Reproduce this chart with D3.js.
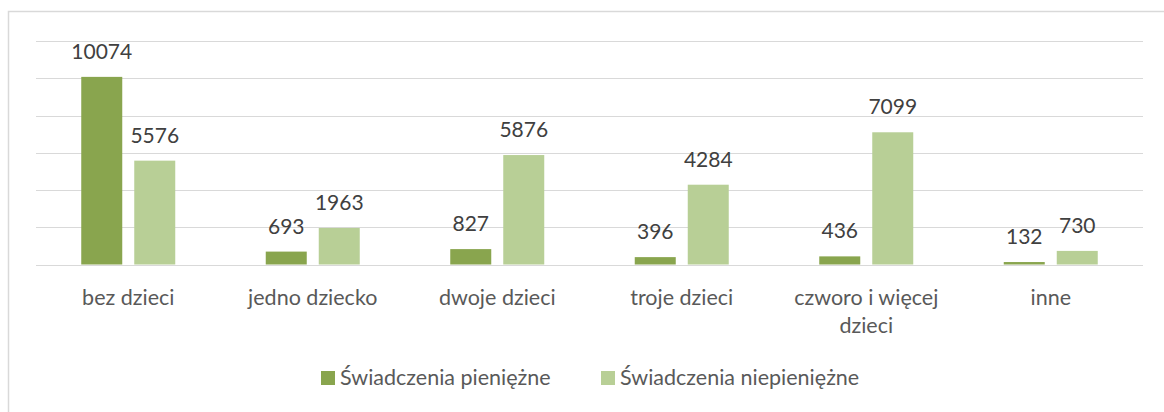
<!DOCTYPE html>
<html>
<head>
<meta charset="utf-8">
<script src="https://cdn.jsdelivr.net/npm/d3@7"></script>
<style>
    body { margin: 0; background: #fff; }
    text { font-family: Lato, "Open Sans", sans-serif; }
</style>
</head>
<body>
<div id="chart"></div>
<script>
// data
const categories = ["bez dzieci", "jedno dziecko", "dwoje dzieci", "troje dzieci", "czworo i więcej dzieci", "inne"]
const seriesNames = ["Świadczenia pieniężne", "Świadczenia niepieniężne"]
const cashValues = [10074, 693, 827, 396, 436, 132]
const nonCashValues = [5576, 1963, 5876, 4284, 7099, 730]
const yTicks = [0, 2000, 4000, 6000, 8000, 10000, 12000]
const colors = ["#89a54e", "#b8cf96"]

const drawBarChart = () => {
    const width = 1164,
        height = 412
    const margin = ({ top: 41, right: 21, bottom: 147.5, left: 36 })

    const svg = d3.select("#chart").append("svg")
        .attr("width", width)
        .attr("height", height)

    // outer frame (runs off the right and bottom edges)
    svg.append("rect")
        .attr("x", 8.5)
        .attr("y", 11.5)
        .attr("width", width + 20)
        .attr("height", height + 20)
        .attr("fill", "none")
        .attr("stroke", "#d9d9d9")
        .attr("stroke-width", 1.5)

    const x = d3.scaleBand()
        .domain(categories)
        .range([margin.left, width - margin.right])

    const y = d3.scaleLinear()
        .domain([0, 12000])
        .range([height - margin.bottom, margin.top])

    const barW = 41, barGap = 12

    // gridlines
    svg.append("g")
        .selectAll("line")
        .data(yTicks)
        .join("line")
        .attr("x1", margin.left)
        .attr("x2", width - margin.right)
        .attr("y1", d => Math.round(y(d)) + 0.5)
        .attr("y2", d => Math.round(y(d)) + 0.5)
        .attr("stroke", "#d9d9d9")
        .attr("stroke-width", 1.2)

    const rows = categories.map((c, i) => ({
        cat: c,
        vals: [
            { s: seriesNames[0], v: cashValues[i], color: colors[0] },
            { s: seriesNames[1], v: nonCashValues[i], color: colors[1] }
        ]
    }))

    const groupW = barW * 2 + barGap
    const groups = svg.append("g")
        .selectAll("g")
        .data(rows)
        .join("g")
        .attr("transform", d => `translate(${x(d.cat) + (x.bandwidth() - groupW) / 2},0)`)

    groups.selectAll("rect")
        .data(d => d.vals)
        .join("rect")
        .attr("x", (d, i) => i * (barW + barGap))
        .attr("width", barW)
        .attr("y", d => y(d.v))
        .attr("height", d => y(0) - y(d.v))
        .attr("fill", d => d.color)

    groups.selectAll("text")
        .data(d => d.vals)
        .join("text")
        .attr("x", (d, i) => i * (barW + barGap) + barW / 2)
        .attr("y", d => y(d.v) - 18)
        .attr("text-anchor", "middle")
        .attr("font-size", "21px")
        .attr("fill", "#404040")
        .text(d => d.v)

    // category labels, wrapped like the original
    const xAxis = g => g
        .attr("transform", `translate(0,${y(0)})`)
        .call(d3.axisBottom(x).tickSize(0).tickPadding(0))
        .call(g => g.selectAll(".domain").remove())

    const ax = svg.append("g").call(xAxis)
    ax.selectAll(".tick text")
        .attr("font-family", "Lato, 'Open Sans', sans-serif")
        .attr("font-size", "21.5px")
        .attr("fill", "#595959")
        .attr("dy", null)
        .attr("y", 40)
        .each(function (d) {
            const t = d3.select(this)
            if (d.length > 15) {
                const words = d.split(" ")
                const first = words.slice(0, -1).join(" ")
                const last = words[words.length - 1]
                t.text(null)
                t.append("tspan").attr("x", 0).text(first)
                t.append("tspan").attr("x", 0).attr("dy", 28).text(last)
            }
        })

    // legend
    const legendItems = [
        { name: seriesNames[0], color: colors[0], x: 321 },
        { name: seriesNames[1], color: colors[1], x: 601 }
    ]
    const legend = svg.append("g")
        .selectAll("g")
        .data(legendItems)
        .join("g")
        .attr("transform", d => `translate(${d.x},371)`)

    legend.append("rect")
        .attr("width", 14)
        .attr("height", 14)
        .attr("y", 0)
        .attr("fill", d => d.color)

    legend.append("text")
        .attr("x", 19)
        .attr("y", 14)
        .attr("font-size", "21.5px")
        .attr("fill", "#595959")
        .text(d => d.name)
}

drawBarChart()
</script>
</body>
</html>
